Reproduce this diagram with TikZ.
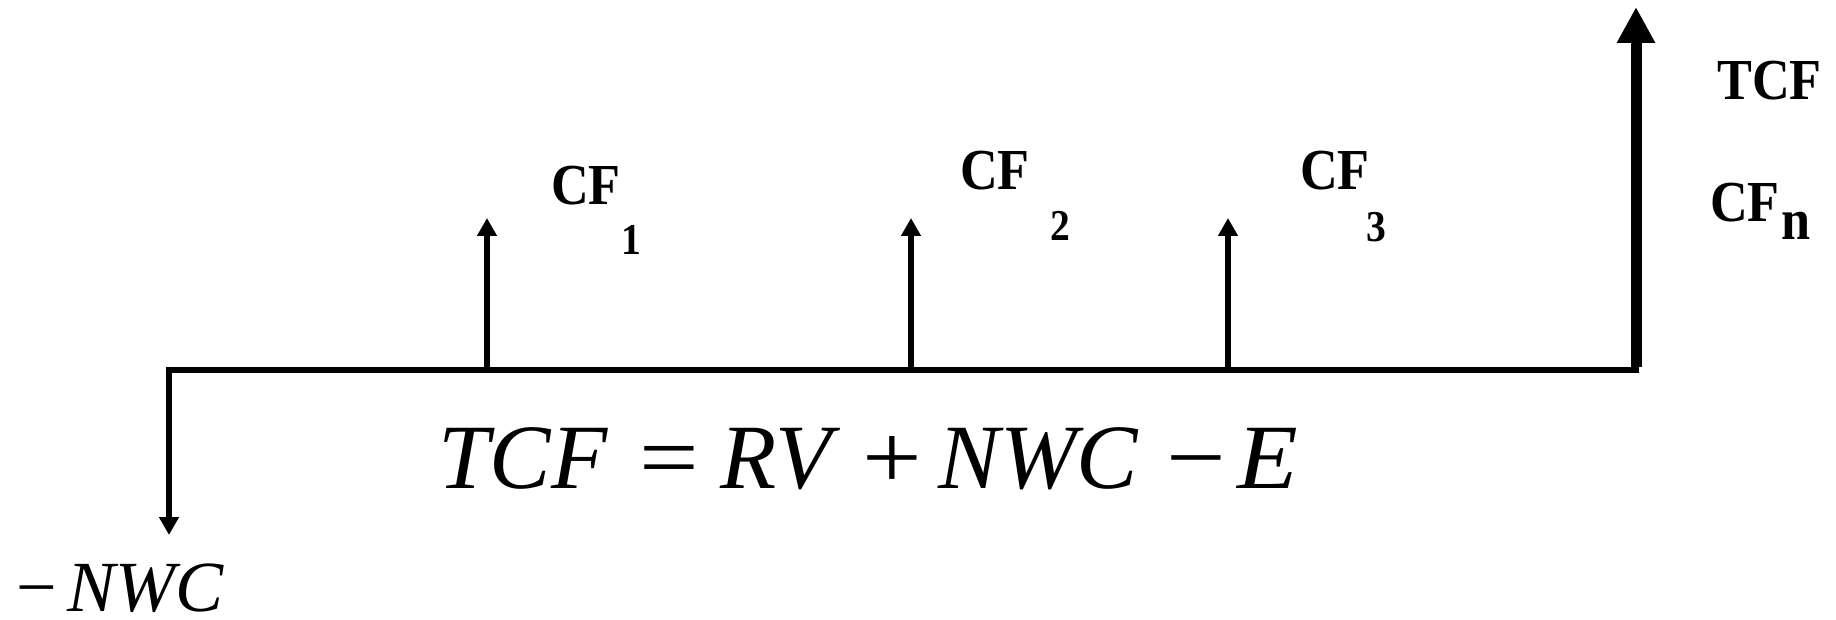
\documentclass[tikz,border=0pt]{standalone}
\usepackage{fontspec}
\setmainfont{Liberation Serif}
\usetikzlibrary{arrows.meta}
\tikzset{
  lbl/.style={inner sep=0pt, anchor=base west, font=\fontsize{58}{58}\selectfont\bfseries},
  subl/.style={inner sep=0pt, anchor=base west, font=\fontsize{44}{44}\selectfont\bfseries},
  eq/.style={inner sep=0pt, anchor=base west, font=\fontsize{92}{92}\selectfont},
  axis/.style={line width=6pt, line cap=rect},
  flow/.style={line width=6pt, -{Triangle[width=19pt,length=18pt]}},
  bigflow/.style={line width=11pt, -{Triangle[width=36pt,length=36pt]}}
}
\newcommand{\hsq}[1]{\scalebox{0.9}[1]{#1}}
\newcommand{\at}[2]{\rlap{\hspace{#1pt}#2}}
\newcommand{\op}[1]{\scalebox{1.15}[1]{\upshape #1}}
\begin{document}
\begin{tikzpicture}[x=1pt,y=-1pt]
\useasboundingbox (0,0) rectangle (1836,620);
% time line
\coordinate (t0) at (169,370);
\coordinate (t1) at (1636,370);
\coordinate (p1) at (487,370);
\coordinate (p2) at (911,370);
\coordinate (p3) at (1228,370);
\coordinate (d0) at (169,535);
\coordinate (q1) at (487,218);
\coordinate (q2) at (911,218);
\coordinate (q3) at (1228,218);
\coordinate (qn) at (1636,7);
\draw[axis] (t0) -- (t1);
\draw[flow] (t0) -- (d0);
\draw[flow] (p1) -- (q1);
\draw[flow] (p2) -- (q2);
\draw[flow] (p3) -- (q3);
\draw[bigflow] ([yshift=3pt]t1) -- (qn);
% labels
\node[lbl] (cf1) at (551,205) {\hsq{CF}};
\node[subl] (cf1s) at (621,255) {\hsq{1}};
\node[lbl] (cf2) at (960,190) {\hsq{CF}};
\node[subl] (cf2s) at (1050,241) {\hsq{2}};
\node[lbl] (cf3) at (1300,190) {\hsq{CF}};
\node[subl] (cf3s) at (1366,242) {\hsq{3}};
\node[lbl] (tcf) at (1717,100) {\hsq{TCF}};
\node[lbl] (cfn) at (1710,222) {\hsq{CF}};
\node[lbl] (cfns) at (1781,240) {\hsq{n}};
% formulas
\node[eq] (form) at (438,488) {\itshape
  \at{0}{TCF}\at{201}{\op{=}}\at{282}{RV}\at{424}{\op{+}}\at{500}{NWC}\at{728}{\op{−}}\at{799}{\scalebox{1.08}[1]{E}}\hspace{870pt}};
\node[inner sep=0pt, anchor=base west, font=\fontsize{72}{72}\selectfont] (nwc) at (16,611) {−\hspace{11pt}\itshape NWC};
\end{tikzpicture}
\end{document}
